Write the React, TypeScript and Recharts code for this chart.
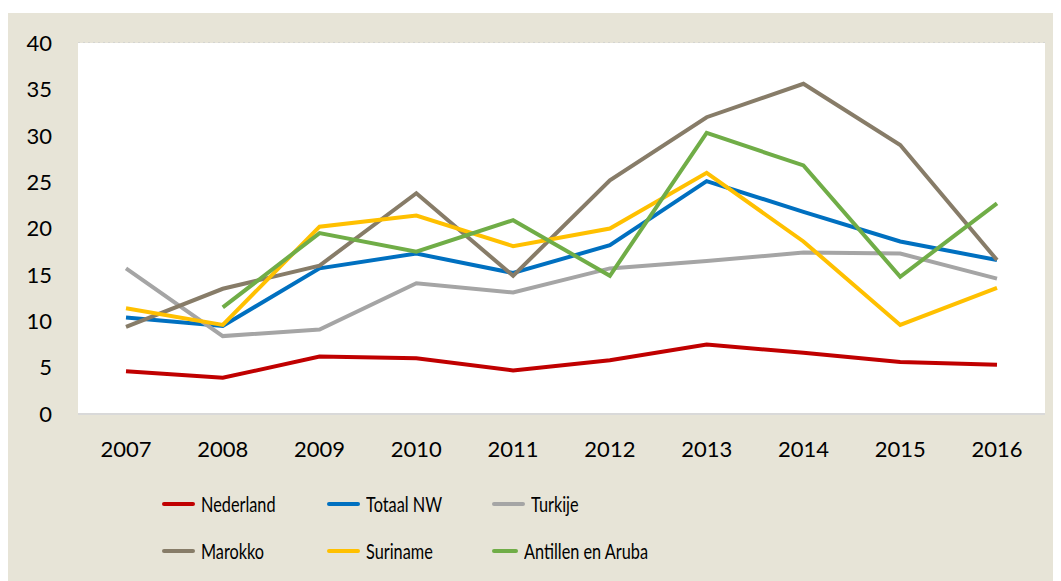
import { LineChart, Line, XAxis, YAxis, CartesianGrid, Legend } from "recharts";

const years = ["2007", "2008", "2009", "2010", "2011", "2012", "2013", "2014", "2015", "2016"];
const nederland = [4.6, 3.9, 6.2, 6.0, 4.7, 5.8, 7.5, 6.6, 5.6, 5.3];
const totaalNW = [10.4, 9.5, 15.7, 17.3, 15.2, 18.2, 25.1, 21.8, 18.6, 16.6];
const turkije = [15.7, 8.4, 9.1, 14.1, 13.1, 15.7, 16.5, 17.4, 17.3, 14.6];
const marokko = [9.4, 13.5, 16.0, 23.8, 14.9, 25.2, 32.0, 35.6, 29.0, 16.6];
const suriname = [11.4, 9.6, 20.2, 21.4, 18.1, 20.0, 26.0, 18.6, 9.6, 13.6];
const antillen = [null, 11.5, 19.5, 17.5, 20.9, 14.9, 30.3, 26.8, 14.8, 22.7];
const yTicks = [0, 5, 10, 15, 20, 25, 30, 35, 40];

const series = [
  { key: "nederland", name: "Nederland", color: "#C00000", values: nederland },
  { key: "totaal", name: "Totaal NW", color: "#0070C0", values: totaalNW },
  { key: "turkije", name: "Turkije", color: "#A5A5A5", values: turkije },
  { key: "marokko", name: "Marokko", color: "#877C68", values: marokko },
  { key: "suriname", name: "Suriname", color: "#FFC000", values: suriname },
  { key: "antillen", name: "Antillen en Aruba", color: "#70AD47", values: antillen },
];

const data = years.map((year, i) => {
  const row: Record<string, string | number | null> = { year };
  series.forEach((s) => {
    row[s.key] = s.values[i];
  });
  return row;
});

if (typeof document !== "undefined") document.body.style.overflow = "hidden";

const tickFont = { fontFamily: "Lato, 'Open Sans', sans-serif", fontSize: 22, fill: "#000" };

// legend text in the original is a tall, narrow face -> squeeze Lato a bit
function renderLegend() {
  return (
    <div
      style={{
        display: "grid",
        gridTemplateColumns: "165px 165px 200px",
        gridAutoRows: "47px",
        paddingLeft: 154,
        fontFamily: "Lato, sans-serif",
        fontSize: 22,
        color: "#000",
      }}
    >
      {series.map((s) => (
        <div key={s.key} style={{ display: "flex", alignItems: "center" }}>
          <span
            style={{
              display: "inline-block",
              width: 33,
              height: 4,
              borderRadius: 2,
              background: s.color,
              marginRight: 6,
            }}
          />
          <span
            style={{
              display: "inline-block",
              whiteSpace: "nowrap",
              transform: "scaleX(0.74)",
              transformOrigin: "left center",
            }}
          >
            {s.name}
          </span>
        </div>
      ))}
    </div>
  );
}

export default function App() {
  return (
    <div style={{ marginTop: 5, width: 1053, height: 568, background: "#E7E4D7" }}>
      <LineChart
        width={1053}
        height={568}
        data={data}
        margin={{ top: 30, right: 16, left: 0, bottom: 107 }}
      >
        <rect x={70} y={30} width={967} height={371} fill="#FFFFFF" />
        <CartesianGrid
          vertical={false}
          stroke="#D0D0D0"
          strokeDasharray="2 3"
          strokeWidth={1.3}
        />
        <XAxis
          dataKey="year"
          height={60}
          padding={{ left: 48, right: 48 }}
          axisLine={{ stroke: "#D9D9D9", strokeWidth: 2 }}
          tickLine={false}
          tickSize={0}
          tickMargin={27}
          tick={tickFont}
          interval={0}
        />
        <YAxis
          width={70}
          domain={[0, 40]}
          ticks={yTicks}
          axisLine={false}
          tickLine={false}
          tickSize={0}
          tickMargin={26}
          tick={tickFont}
          interval={0}
        />
        {series.map((s) => (
          <Line
            key={s.key}
            type="linear"
            dataKey={s.key}
            name={s.name}
            stroke={s.color}
            strokeWidth={4}
            dot={false}
            activeDot={false}
            isAnimationActive={false}
          />
        ))}
        <Legend
          verticalAlign="middle"
          align="center"
          layout="horizontal"
          content={renderLegend}
          wrapperStyle={{ top: 467, left: 0, width: 1053 }}
        />
      </LineChart>
    </div>
  );
}
